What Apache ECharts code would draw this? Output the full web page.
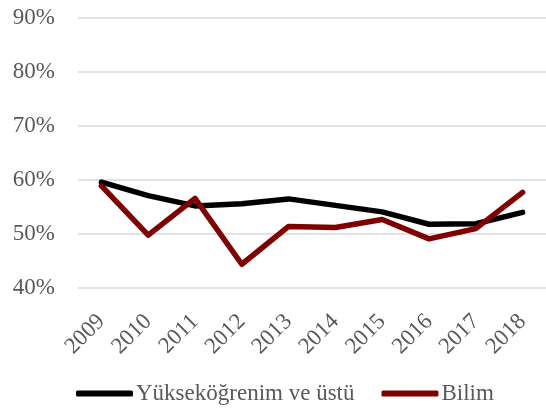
<!DOCTYPE html>
<html>
<head>
<meta charset="utf-8">
<script src="https://cdn.jsdelivr.net/npm/echarts@6/dist/echarts.min.js"></script>
<style>
  html, body { margin: 0; padding: 0; background: #fff; }
  #chart { width: 546px; height: 410px; }
</style>
</head>
<body>
<div id="chart"></div>
<script>
// yıllar ve oranlar (%)
let years = ['2009', '2010', '2011', '2012', '2013', '2014', '2015', '2016', '2017', '2018']
let yuksekogrenim = [59.6, 57.1, 55.2, 55.6, 56.5, 55.3, 54.1, 51.8, 51.9, 54.0]
let bilim = [58.9, 49.8, 56.6, 44.4, 51.4, 51.2, 52.7, 49.1, 51.0, 57.7]
let yTicks = { min: 40, max: 90, step: 10 }

let textColor = '#595959'
let font = 'Liberation Serif'

let myChart = echarts.init(document.getElementById('chart'))
let option = {
  animation: false,
  grid: { left: 78, right: -10, top: 18, bottom: 122 },
  legend: {
    top: 382,
    left: 76,
    padding: 0,
    itemWidth: 57,
    itemHeight: 6,
    itemGap: 27,
    icon: 'roundRect',
    textStyle: { color: textColor, fontFamily: font, fontSize: 23, padding: [0, 0, 0, -2] },
    data: ['Yükseköğrenim ve üstü', 'Bilim']
  },
  xAxis: {
    type: 'category',
    data: years,
    boundaryGap: true,
    axisLine: { show: false },
    axisTick: { show: false },
    axisLabel: { rotate: 45, margin: 30, color: textColor, fontFamily: font, fontSize: 23 }
  },
  yAxis: {
    type: 'value',
    min: yTicks.min,
    max: yTicks.max,
    interval: yTicks.step,
    axisLine: { show: false },
    axisTick: { show: false },
    splitLine: { lineStyle: { color: '#d9d9d9', width: 1.5 } },
    axisLabel: {
      margin: 23,
      color: textColor,
      fontFamily: font,
      fontSize: 23,
      formatter: function(v) { return v + '%' }
    }
  },
  series: [
    {
      name: 'Yükseköğrenim ve üstü',
      type: 'line',
      data: yuksekogrenim,
      showSymbol: false,
      color: '#000000',
      lineStyle: { width: 5.5, cap: 'round', join: 'round' }
    },
    {
      name: 'Bilim',
      type: 'line',
      data: bilim,
      showSymbol: false,
      color: '#7f0000',
      lineStyle: { width: 5.5, cap: 'round', join: 'round' }
    }
  ]
}
myChart.setOption(option)
</script>
</body>
</html>
